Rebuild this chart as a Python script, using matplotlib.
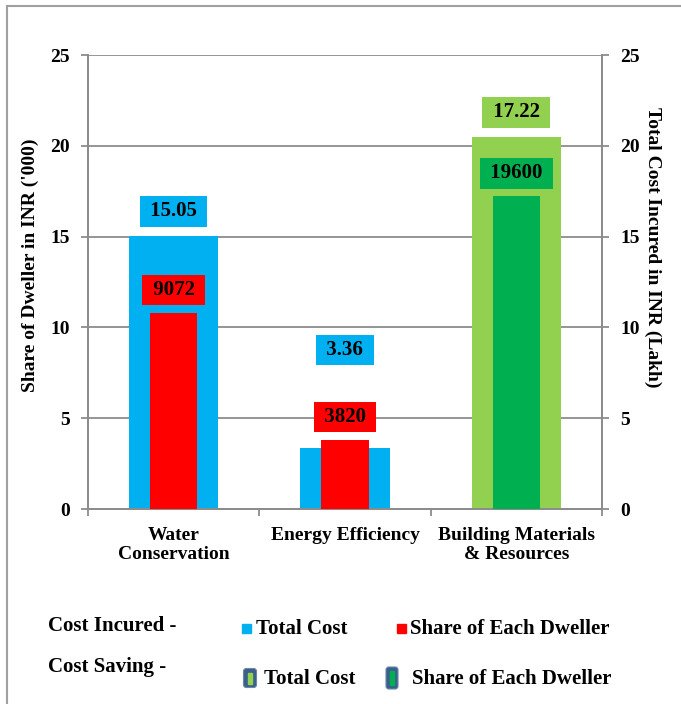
import matplotlib
matplotlib.use("Agg")
import matplotlib.pyplot as plt
from matplotlib.patches import Rectangle, FancyBboxPatch
from matplotlib.lines import Line2D
import numpy as np

# ---------------- data ----------------
categories = ["Water\nConservation", "Energy Efficiency", "Building Materials\n& Resources"]
total_cost_heights = [15.05, 3.36, 20.5]          # wide bars (right axis, Lakh)
total_cost_labels = ["15.05", "3.36", "17.22"]
dweller_share_heights = [10.8, 3.82, 17.22]       # narrow bars (left axis, '000)
dweller_share_labels = ["9072", "3820", "19600"]
y_ticks = [0, 5, 10, 15, 20, 25]

BLUE = "#00B0F0"
RED = "#FF0000"
LGREEN = "#92D050"
DGREEN = "#00B050"
GRID = "#8C8C8C"
wide_colors = [BLUE, BLUE, LGREEN]
narrow_colors = [RED, RED, DGREEN]

plt.rcParams["font.family"] = ["Liberation Serif", "DejaVu Serif"]
plt.rcParams["font.weight"] = "bold"

W, H = 681, 704
fig = plt.figure(figsize=(W / 100, H / 100), dpi=100)

def fx(px):
    return px / W

def fy(py):
    return 1 - py / H

ax_l, ax_r, ax_t, ax_b = 88, 602, 55, 509
axR = fig.add_axes([fx(ax_l), fy(ax_b), fx(ax_r - ax_l), (ax_b - ax_t) / H])
axL = axR.twinx()
axL.set_zorder(axR.get_zorder() + 1)
axL.patch.set_visible(False)
axL.yaxis.set_ticks_position("left")
axL.yaxis.set_label_position("left")
axR.yaxis.set_ticks_position("right")
axR.yaxis.set_label_position("right")

x = np.arange(len(categories))
for a in (axR, axL):
    a.set_xlim(-0.5, len(categories) - 0.5)
    a.set_ylim(0, 25)
    a.set_yticks(y_ticks)
    for s in a.spines.values():
        s.set_color(GRID)
        s.set_linewidth(1.3)
    a.spines["top"].set_visible(False)

axR.set_axisbelow(True)
axR.yaxis.grid(True, color=GRID, linewidth=1.3)
axR.xaxis.grid(False)

wide_w = 0.52
narrow_w = 0.275
axR.bar(x, total_cost_heights, width=wide_w, color=wide_colors, zorder=2)
axL.bar(x, dweller_share_heights, width=narrow_w, color=narrow_colors, zorder=3)

lab_fs = 15
def put_label(a, xi, h, txt, col, off):
    a.annotate(" " + txt + " ", xy=(xi, h), xytext=(0, off), textcoords="offset points",
               ha="center", va="center", fontsize=lab_fs, fontweight="bold", color="black",
               bbox=dict(boxstyle="square,pad=0.25", fc=col, ec="none"), zorder=6,
               annotation_clip=False)

for i in range(len(categories)):
    off_w = 70.5 if i == 1 else 17.5
    put_label(axR, x[i], total_cost_heights[i], total_cost_labels[i], wide_colors[i], off_w)
    put_label(axL, x[i], dweller_share_heights[i], dweller_share_labels[i], narrow_colors[i], 16.5)

# ticks
tick_fs = 14
axL.set_yticklabels([str(t) for t in y_ticks], fontsize=tick_fs, fontweight="bold")
axR.set_yticklabels([str(t) for t in y_ticks], fontsize=tick_fs, fontweight="bold")
for a in (axR, axL):
    a.tick_params(axis="y", length=5, width=1.3, color=GRID, pad=8)
axL.set_xticks([])
axR.set_xticks(x)
axR.set_xticklabels(categories, fontsize=14, fontweight="bold", linespacing=1.15)
axR.tick_params(axis="x", length=0, pad=13)
axR.set_xticks(np.arange(len(categories) + 1) - 0.5, minor=True)
axR.tick_params(axis="x", which="minor", length=5, width=1.3, color=GRID, direction="out")

axL.set_ylabel("Share of Dweller in INR ('000)", fontsize=14, fontweight="bold")
axL.yaxis.set_label_coords((30 - ax_l) / (ax_r - ax_l), (ax_b - 265) / (ax_b - ax_t))
axL.yaxis.label.set_verticalalignment("center")
axR.set_ylabel("Total Cost Incured in INR (Lakh)", fontsize=14, fontweight="bold", rotation=-90)
axR.yaxis.set_label_coords((653 - ax_l) / (ax_r - ax_l), (ax_b - 247) / (ax_b - ax_t))
axR.yaxis.label.set_verticalalignment("center")

# figure border (left and top)
fig.add_artist(Line2D([fx(7), fx(7)], [0, fy(6)], color="#A0A0A0", linewidth=1.5))
fig.add_artist(Line2D([fx(7), 1], [fy(6), fy(6)], color="#A0A0A0", linewidth=1.5))

# ---------------- custom legend ----------------
leg_fs = 15
fig.text(fx(48), fy(626), "Cost Incured -", fontsize=leg_fs, fontweight="bold", va="center", ha="left")
fig.text(fx(48), fy(667), "Cost Saving -", fontsize=leg_fs, fontweight="bold", va="center", ha="left")

def sq(cx, cy, w, h, col):
    fig.add_artist(Rectangle((fx(cx - w / 2), fy(cy + h / 2)), w / W, h / H, color=col,
                             transform=fig.transFigure))

sq(246, 628, 9, 9, BLUE)
fig.text(fx(256), fy(629), "Total Cost", fontsize=leg_fs, fontweight="bold", va="center", ha="left")
sq(401, 628, 9, 9, RED)
fig.text(fx(410), fy(629), "Share of Each Dweller", fontsize=leg_fs, fontweight="bold", va="center", ha="left")

def saving_marker(cx, cy, w, h, inner):
    fig.add_artist(FancyBboxPatch((fx(cx - w / 2), fy(cy + h / 2)), w / W, h / H,
                                  boxstyle="round,pad=0,rounding_size=0.004",
                                  fc="#3A5F8C", ec="#6C86A8", lw=0.8, transform=fig.transFigure))
    sq(cx, cy, 4, h - 8, inner)

saving_marker(250, 678, 13, 19, LGREEN)
fig.text(fx(264), fy(679), "Total Cost", fontsize=leg_fs, fontweight="bold", va="center", ha="left")
saving_marker(392, 678, 12, 22, DGREEN)
fig.text(fx(412), fy(679), "Share of Each Dweller", fontsize=leg_fs, fontweight="bold", va="center", ha="left")

fig.savefig("out.png", dpi=100, facecolor="white")
